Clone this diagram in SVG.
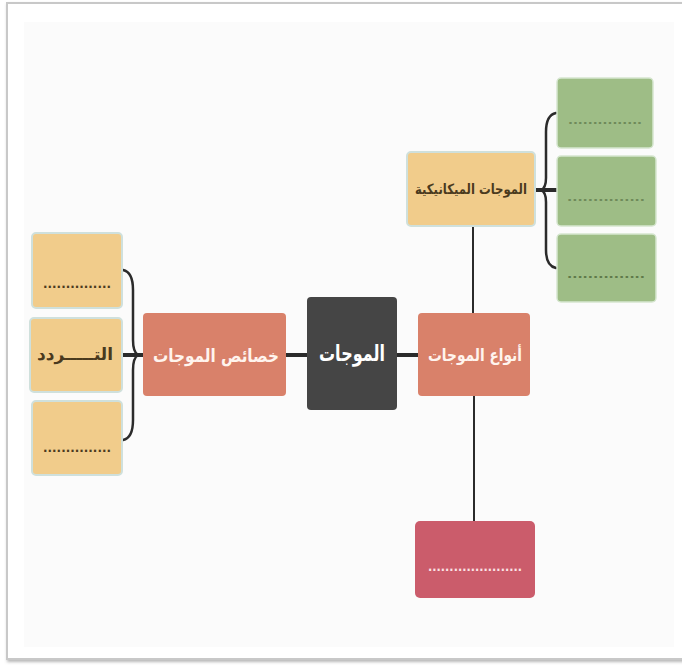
<svg xmlns="http://www.w3.org/2000/svg" width="682" height="665" viewBox="0 0 682 665">
<defs>
<style>
.t{font-family:"DejaVu Sans",sans-serif;font-weight:bold;text-anchor:middle;dominant-baseline:central}
.y{fill:#f1cc8b;stroke:#cfe0dc;stroke-width:2}
.g{fill:#9ebd86;stroke:#d6e6d0;stroke-width:1.5}
.o{fill:#d9816a}
.ln{fill:none;stroke:#2b2b2b;stroke-linecap:round}
.dk{fill:#4a3a1e}
.wd{fill:#fff4ee}
</style>
<filter id="sh" x="-5%" y="-5%" width="110%" height="110%"><feDropShadow dx="1" dy="2" stdDeviation="1.5" flood-color="#888" flood-opacity="0.6"/></filter>
</defs>
<rect x="0" y="0" width="682" height="665" fill="#ffffff"/>
<rect x="7" y="3" width="690" height="656" fill="#ffffff" stroke="#c8c8c8" stroke-width="2" filter="url(#sh)"/>
<rect x="24" y="22" width="650" height="625" fill="#fbfbfb"/>

<g id="connectors">
<path class="ln" stroke-width="4" d="M286 355 H307 M397 355 H418"/>
<path class="ln" stroke-width="2" d="M473 226 V313 M474 396 V521"/>
<path class="ln" stroke-width="4" d="M122 355 H143"/>
<path class="ln" stroke-width="2.5" d="M123 270 Q133 272 133 290 V340 Q133 352 138 355 Q133 358 133 370 V420 Q133 438 123 440"/>
<path class="ln" stroke-width="4" d="M535 190 H557"/>
<path class="ln" stroke-width="2.5" d="M556 113 Q546 115 546 132 V178 Q546 188 541 190 Q546 192 546 202 V250 Q546 266 556 268"/>
</g>

<g id="n-center">
<rect x="307" y="297" width="90" height="113" rx="4" fill="#454545"/>
<text class="t" x="352" y="353" font-size="22" fill="#ffffff" textLength="66" lengthAdjust="spacingAndGlyphs">الموجات</text>
</g>
<g id="n-types">
<rect class="o" x="418" y="313" width="112" height="83" rx="4"/>
<text class="t wd" x="475" y="355" font-size="17" textLength="94" lengthAdjust="spacingAndGlyphs">أنواع الموجات</text>
</g>
<g id="n-props">
<rect class="o" x="143" y="313" width="143" height="83" rx="4"/>
<text class="t wd" x="216" y="355" font-size="18" textLength="126" lengthAdjust="spacingAndGlyphs">خصائص الموجات</text>
</g>
<g id="n-mech">
<rect class="y" x="407" y="152" width="128" height="74" rx="4"/>
<text class="t dk" x="471" y="189" font-size="14" textLength="112" lengthAdjust="spacingAndGlyphs">الموجات الميكانيكية</text>
</g>
<g id="n-l1">
<rect class="y" x="32" y="233" width="90" height="75" rx="4"/>
<text class="t dk" x="77" y="284" font-size="12" textLength="68" lengthAdjust="spacingAndGlyphs">...............</text>
</g>
<g id="n-l2">
<rect class="y" x="30" y="318" width="92" height="74" rx="4"/>
<text class="t dk" x="75" y="354" font-size="17" textLength="76" lengthAdjust="spacingAndGlyphs">التـــــردد</text>
</g>
<g id="n-l3">
<rect class="y" x="32" y="401" width="90" height="74" rx="4"/>
<text class="t dk" x="77" y="448" font-size="12" textLength="68" lengthAdjust="spacingAndGlyphs">...............</text>
</g>
<g id="n-g1">
<rect class="g" x="557" y="78" width="96" height="70" rx="4"/>
<text class="t" x="605" y="120" font-size="11" fill="#6f8a5a" textLength="74" lengthAdjust="spacingAndGlyphs">...............</text>
</g>
<g id="n-g2">
<rect class="g" x="557" y="156" width="99" height="70" rx="4"/>
<text class="t" x="606" y="197" font-size="11" fill="#6f8a5a" textLength="78" lengthAdjust="spacingAndGlyphs">...............</text>
</g>
<g id="n-g3">
<rect class="g" x="557" y="234" width="99" height="68" rx="4"/>
<text class="t" x="606" y="274" font-size="11" fill="#5f7a4a" textLength="78" lengthAdjust="spacingAndGlyphs">...............</text>
</g>
<g id="n-red">
<rect x="415" y="521" width="120" height="77" rx="5" fill="#cb5c6b"/>
<text class="t" x="475" y="567" font-size="12" fill="#fbe3e6" textLength="94" lengthAdjust="spacingAndGlyphs">......................</text>
</g>
</svg>
